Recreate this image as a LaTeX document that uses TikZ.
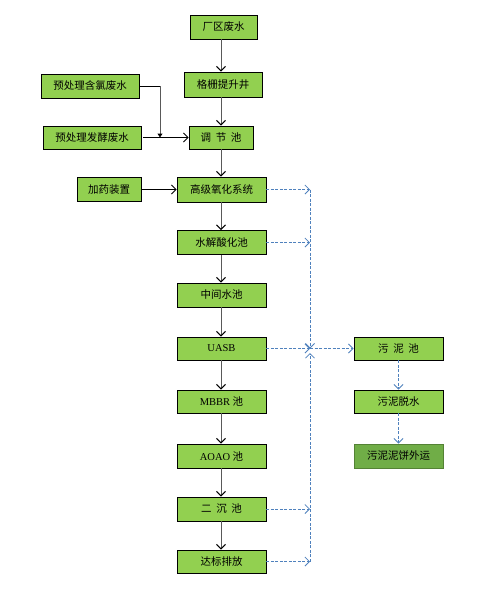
\documentclass[tikz,border=0pt]{standalone}
\usepackage{fontspec}
\setmainfont{Noto Sans CJK SC}
\newfontfamily\latf{Liberation Serif}
\usetikzlibrary{arrows.meta}
\definecolor{boxgreen}{HTML}{92D050}
\definecolor{darkgreen}{HTML}{70AD47}
\definecolor{darkborder}{HTML}{548235}
\definecolor{dashblue}{HTML}{4F81BD}
\tikzset{
  box/.style={draw=black, line width=0.9pt, fill=boxgreen, inner sep=0pt, minimum height=24pt, font=\fontsize{10.5}{12}\selectfont},
  endbox/.style={box, draw=darkborder, fill=darkgreen},
  flow/.style={draw=gray!70!black, line width=1pt, -{Straight Barb[length=4.5pt,width=9pt,black]}},
  hflow/.style={draw=black, line width=0.8pt, -{Straight Barb[length=4.5pt,width=9pt]}},
  sludge/.style={draw=dashblue, line width=0.8pt, dash pattern=on 3pt off 1.5pt, -{Straight Barb[length=4.5pt,width=9pt]}},
}
\begin{document}
\begin{tikzpicture}[x=1pt,y=-1pt]
\fill[white] (0,0) rectangle (481,592);
\useasboundingbox (0,0) rectangle (481,592);
% main column
\node[box, minimum width=67pt] (cq) at (223.5,27) {厂区废水};
\node[box, minimum width=78pt, minimum height=25pt] (gs) at (223,84.5) {格栅提升井};
\node[box, minimum width=98pt] (yl) at (90,86) {预处理含氯废水};
\node[box, minimum width=98pt, minimum height=23pt] (yf) at (92,137.5) {预处理发酵废水};
\node[box, minimum width=64pt, minimum height=23pt] (tj) at (221,137.5) {调\ \ 节\ \ 池};
\node[box, minimum width=64pt] (jy) at (109,189.5) {加药装置};
\node[box, minimum width=89pt, minimum height=25pt] (gj) at (221.5,189.5) {高级氧化系统};
\node[box, minimum width=89pt] (sj) at (221.5,242.5) {水解酸化池};
\node[box, minimum width=89pt] (zj) at (221.5,295) {中间水池};
\node[box, minimum width=89pt, minimum height=23pt] (ua) at (221.5,348.5) {\latf UASB};
\node[box, minimum width=89pt, minimum height=23pt] (mb) at (221.5,401.5) {{\latf MBBR} 池};
\node[box, minimum width=89pt] (ao) at (221.5,456) {{\latf AOAO} 池};
\node[box, minimum width=89pt] (ec) at (221.5,509) {二\ \ 沉\ \ 池};
\node[box, minimum width=89pt, minimum height=23pt] (db) at (221.5,561.5) {达标排放};
% sludge column
\node[box, minimum width=89pt, minimum height=23pt] (wn) at (398.5,348.5) {污\ \ 泥\ \ 池};
\node[box, minimum width=89pt, minimum height=23pt] (ws) at (398.5,401.5) {污泥脱水};
\node[endbox, minimum width=89pt] (wy) at (398.5,456) {污泥泥饼外运};
% main flow
\draw[flow] (cq.south -| gs.north) ++(-2,0) coordinate (cqs) -- (cqs |- gs.north);
\draw[flow] (gs.south -| tj.north) -- (tj.north);
\draw[flow] (tj.south) -- (tj.south |- gj.north);
\draw[flow] (gj.south -| tj.south) -- (sj.north -| tj.south);
\draw[flow] (sj.south -| tj.south) -- (zj.north -| tj.south);
\draw[flow] (zj.south -| tj.south) -- (ua.north -| tj.south);
\draw[flow] (ua.south -| tj.south) -- (mb.north -| tj.south);
\draw[flow] (mb.south -| tj.south) -- (ao.north -| tj.south);
\draw[flow] (ao.south -| tj.south) -- (ec.north -| tj.south);
\draw[flow] (ec.south -| tj.south) -- (db.north -| tj.south);
% side inputs
\coordinate (kink) at (160,86);
\coordinate (yfs) at (143,137.5);
\draw[draw=black, line width=0.9pt] (yl.east) -- (kink);
\draw[draw=gray!70!black, line width=1pt, -{Triangle[length=4pt,width=5pt,black]}] (kink) -- (kink |- tj.west);
\draw[hflow] (yfs) -- (tj.west);
\draw[hflow] (jy.east) -- (gj.west);
% sludge bus
\coordinate (bt) at (310,189.5);
\coordinate (bj) at (310,348.5);
\coordinate (bb) at (310,561.5);
\coordinate (bu) at (310,353);
\draw[sludge] (gj.east) -- (bt);
\draw[sludge] (sj.east) -- (sj.east -| bt);
\draw[sludge] (ua.east) -- (bj);
\draw[sludge] (ec.east) -- (ec.east -| bt);
\draw[sludge] (db.east) -- (bb);
\draw[sludge] (bt) -- (bj);
\draw[sludge] (bb) -- (bu);
\draw[sludge] (bj) -- (wn.west);
\draw[sludge] (wn.south) -- (ws.north);
\draw[sludge] (ws.south) -- (wy.north);
\end{tikzpicture}
\end{document}
